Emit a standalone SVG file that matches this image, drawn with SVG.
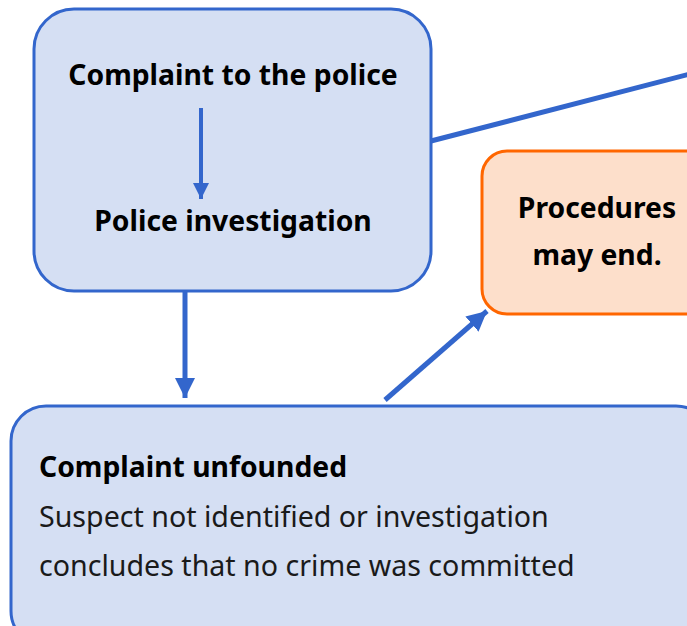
<svg xmlns="http://www.w3.org/2000/svg" width="687" height="626" viewBox="0 0 687 626">
<style>
.blue{fill:#D5DFF3;stroke:#3366CC;stroke-width:3}
.orange{fill:#FDDFCB;stroke:#FF6600;stroke-width:3}
.b{font-family:"Noto Sans","Liberation Sans",sans-serif;font-weight:bold;font-size:28.3px;fill:#000}
.r{font-family:"Noto Sans","Liberation Sans",sans-serif;font-size:28.6px;fill:#1a1a1a}
.c{stroke:#3366CC;stroke-width:5;fill:none}
</style>
<defs>
<marker id="ah" markerWidth="4" markerHeight="4" refX="4" refY="2" orient="auto" markerUnits="strokeWidth"><path d="M0,0 L4,2 L0,4 Z" fill="#3366CC"/></marker>
<marker id="ah2" markerWidth="4" markerHeight="4" refX="4" refY="2" orient="auto" markerUnits="strokeWidth"><path d="M0,0 L4,2 L0,4 Z" fill="#3366CC"/></marker>
</defs>
<g id="connectors">
<line class="c" x1="431" y1="141" x2="690" y2="74"/>
<line class="c" x1="185" y1="292" x2="185" y2="398" marker-end="url(#ah)"/>
<line class="c" x1="385" y1="400" x2="487" y2="311" marker-end="url(#ah)"/>
</g>
<g id="police">
<rect class="blue" x="34" y="9" width="397" height="282" rx="40"/>
<text class="b" x="233" y="85" text-anchor="middle">Complaint to the police</text>
<line x1="201" y1="108" x2="201" y2="199" stroke="#3366CC" stroke-width="4" marker-end="url(#ah2)"/>
<text class="b" x="233" y="231" text-anchor="middle">Police investigation</text>
</g>
<g id="procedures">
<rect class="orange" x="482" y="151" width="240" height="163" rx="25"/>
<text class="b" x="597" y="218" text-anchor="middle">Procedures</text>
<text class="b" x="597" y="265" text-anchor="middle">may end.</text>
</g>
<g id="unfounded">
<rect class="blue" x="11" y="406" width="700" height="240" rx="35"/>
<text class="b" x="39" y="477">Complaint unfounded</text>
<text class="r" x="39" y="527">Suspect not identified or investigation</text>
<text class="r" x="39" y="576">concludes that no crime was committed</text>
</g>
</svg>
